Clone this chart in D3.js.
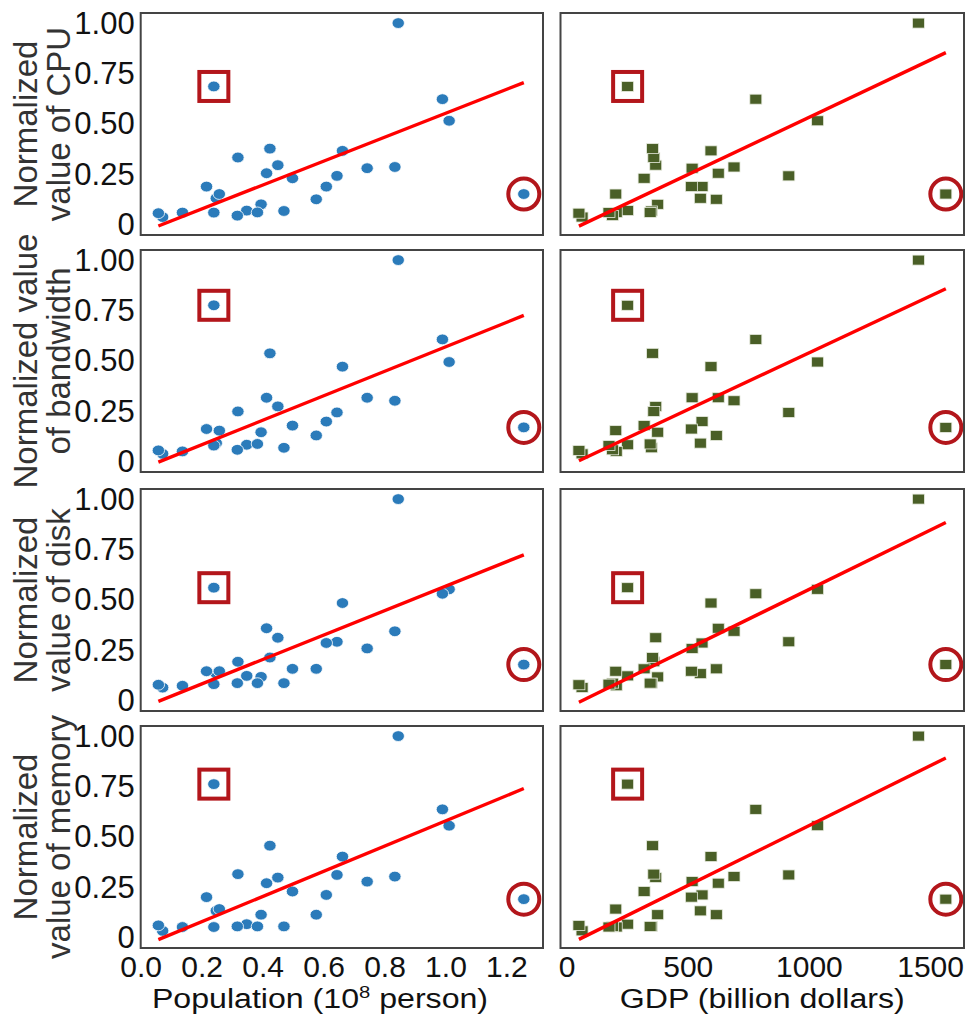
<!DOCTYPE html>
<html>
<head>
    <meta charset="utf-8" />
    <title>resource vs population / GDP</title>
    <script src="https://d3js.org/d3.v7.min.js"></script>
    <style>
        body { margin: 0; background: #fff; }
        text { font-family: "Liberation Sans", Arial, sans-serif; fill: #111; }
    </style>
</head>
<body>
    <svg class="chart"></svg>
    <script>
        // provinces (Tibet, Hainan, Gansu not shown)
        var provinces = ["Guangdong","Jiangsu","Shandong","Zhejiang","Henan","Sichuan","Fujian","Hubei",
                         "Hunan","Shanghai","Anhui","Hebei","Beijing","Shaanxi","Jiangxi","Chongqing",
                         "Liaoning","Yunnan","Guangxi","Shanxi","Inner Mongolia","Guizhou","Xinjiang",
                         "Tianjin","Heilongjiang","Jilin","Ningxia","Qinghai"];
        var population = [1.257,0.845,1.012,0.644,0.990,0.834,0.413,0.576,0.662,0.248,0.609,0.743,0.216,0.395,
                          0.450,0.319,0.424,0.470,0.498,0.348,0.240,0.383,0.258,0.137,0.317,0.240,0.072,0.058];
        var gdp = [1565,1452,1036,917,781,691,626,618,596,552,559,518,515,376,
                   368,360,355,350,320,252,252,345,203,205,190,175,64,51];
        var cpu = [0.153,1.000,0.516,0.243,0.623,0.287,0.256,0.127,0.367,0.132,0.190,0.281,0.190,0.102,
                   0.296,0.334,0.378,0.069,0.231,0.071,0.686,0.062,0.153,0.061,0.046,0.061,0.039,0.058];
        var bandwidth = [0.171,1.000,0.495,0.245,0.607,0.303,0.318,0.131,0.472,0.093,0.200,0.318,0.163,0.147,
                         0.275,0.250,0.538,0.070,0.180,0.085,0.776,0.089,0.155,0.052,0.060,0.081,0.040,0.057];
        var disk = [0.180,1.000,0.553,0.293,0.531,0.345,0.360,0.159,0.485,0.135,0.287,0.260,0.147,0.119,
                    0.313,0.194,0.215,0.088,0.159,0.124,0.561,0.088,0.147,0.075,0.088,0.083,0.066,0.080];
        var memory = [0.192,1.000,0.556,0.312,0.637,0.304,0.271,0.115,0.403,0.134,0.213,0.279,0.202,0.115,
                      0.299,0.316,0.457,0.057,0.230,0.068,0.762,0.057,0.143,0.054,0.057,0.054,0.035,0.062];

        var rowLabels = [["Normalized", "value of CPU"], ["Normalized value", "of bandwidth"],
                         ["Normalized", "value of disk"], ["Normalized", "value of memory"]];
        var rowValues = [cpu, bandwidth, disk, memory];
        var popTicks = [0, 0.2, 0.4, 0.6, 0.8, 1.0, 1.2];
        var gdpTicks = [0, 500, 1000, 1500];
        var yTicks = [0, 0.25, 0.5, 0.75, 1.0];
        var squareIdx = 20;   // boxed outlier
        var circleIdx = 0;    // circled outlier

        var svgWidth = 969, svgHeight = 1014;
        var rowTop = [13, 250, 489, 726], rowHeight = 222;
        var colX = [[140.7, 543], [560.5, 964]];
        var blue = "#2b7bba", green = "#4a5f27", mark = "#b3161b";

        var svg = d3.select(".chart")
                    .attr("width", svgWidth)
                    .attr("height", svgHeight);

        var xPop = d3.scaleLinear().domain([0, 1.32]).range(colX[0]);
        var xGdp = d3.scaleLinear().domain([-25, 1640]).range(colX[1]);

        // least squares fit, leaving the two marked outliers out
        function fit(xs, ys) {
            var idx = d3.range(xs.length).filter(i => i != squareIdx && i != circleIdx);
            var mx = d3.mean(idx, i => xs[i]), my = d3.mean(idx, i => ys[i]);
            var sxy = d3.sum(idx, i => (xs[i] - mx) * (ys[i] - my));
            var sxx = d3.sum(idx, i => (xs[i] - mx) * (xs[i] - mx));
            var b = sxy / sxx;
            return {a: my - b * mx, b: b};
        }

        rowValues.forEach(function (vals, r) {
            var y = d3.scaleLinear().domain([-0.05, 1.05]).range([rowTop[r] + rowHeight, rowTop[r]]);

            [[xPop, population, "circle"], [xGdp, gdp, "square"]].forEach(function (col, c) {
                var x = col[0], xs = col[1];
                var g = svg.append("g");
                var pts = xs.map((v, i) => ({x: v, y: vals[i], i: i}));

                if (col[2] == "circle") {
                    g.selectAll(".dot").data(pts).enter().append("ellipse")
                        .attr("cx", d => x(d.x))
                        .attr("cy", d => y(d.y))
                        .attr("rx", 6.2).attr("ry", 5.4)
                        .attr("fill", blue)
                        .attr("stroke", "#fff").attr("stroke-width", 0.8);
                } else {
                    g.selectAll(".sq").data(pts).enter().append("rect")
                        .attr("x", d => x(d.x) - 6)
                        .attr("y", d => y(d.y) - 5)
                        .attr("width", 12).attr("height", 10)
                        .attr("fill", green)
                        .attr("stroke", "#e8ece0").attr("stroke-width", 0.8);
                }

                var f = fit(xs, vals);
                var ext = d3.extent(xs);
                g.append("line")
                    .attr("x1", x(ext[0])).attr("y1", y(f.a + f.b * ext[0]))
                    .attr("x2", x(ext[1])).attr("y2", y(f.a + f.b * ext[1]))
                    .attr("stroke", "#ff0000").attr("stroke-width", 3.4);

                // marked points
                g.append("rect")
                    .attr("x", x(xs[squareIdx]) - 14.5)
                    .attr("y", y(vals[squareIdx]) - 14.5)
                    .attr("width", 29).attr("height", 29)
                    .attr("fill", "none").attr("stroke", mark).attr("stroke-width", 4);
                g.append("circle")
                    .attr("cx", x(xs[circleIdx]))
                    .attr("cy", y(vals[circleIdx]))
                    .attr("r", 15.5)
                    .attr("fill", "none").attr("stroke", mark).attr("stroke-width", 4);

                // frame
                g.append("rect")
                    .attr("x", x.range()[0]).attr("y", rowTop[r])
                    .attr("width", x.range()[1] - x.range()[0]).attr("height", rowHeight)
                    .attr("fill", "none").attr("stroke", "#444").attr("stroke-width", 2);

                if (r == 3) {
                    var ax = g.append("g")
                        .attr("transform", "translate(0," + (rowTop[r] + rowHeight) + ")")
                        .call(d3.axisBottom(x).tickValues(c == 0 ? popTicks : gdpTicks)
                                .tickSize(0).tickPadding(8)
                                .tickFormat(c == 0 ? d3.format(".1f") : d3.format("d")));
                    ax.select(".domain").remove();
                    ax.selectAll("text").attr("font-size", 30).attr("fill", "#111")
                        .attr("font-family", "Liberation Sans, Arial, sans-serif");
                }
            });

            // y axis on the left column only
            var ay = svg.append("g")
                .attr("transform", "translate(" + colX[0][0] + ",0)")
                .call(d3.axisLeft(y).tickValues(yTicks).tickSize(0).tickPadding(6)
                        .tickFormat(d => d == 0 ? "0" : d3.format(".2f")(d)));
            ay.select(".domain").remove();
            ay.selectAll("text").attr("font-size", 31).attr("fill", "#111")
                .attr("font-family", "Liberation Sans, Arial, sans-serif");

            var cy = rowTop[r] + rowHeight / 2;
            rowLabels[r].forEach(function (line, k) {
                svg.append("text")
                    .attr("transform", "translate(" + (37 + 33 * k) + "," + cy + ") rotate(-90)")
                    .attr("text-anchor", "middle")
                    .attr("font-size", 33)
                    .style("fill", "#333")
                    .text(line);
            });
        });

        // x labels, drawn a little wide like the source
        var pl = svg.append("text")
            .attr("transform", "translate(320,1008) scale(1.19,1)")
            .attr("text-anchor", "middle")
            .attr("font-size", 27);
        pl.append("tspan").text("Population (10");
        pl.append("tspan").attr("dy", -10).attr("font-size", 17).text("8");
        pl.append("tspan").attr("dy", 10).text(" person)");

        svg.append("text")
            .attr("transform", "translate(" + (colX[1][0] + colX[1][1]) / 2 + ",1008) scale(1.19,1)")
            .attr("text-anchor", "middle")
            .attr("font-size", 27)
            .text("GDP (billion dollars)");
    </script>
</body>
</html>
